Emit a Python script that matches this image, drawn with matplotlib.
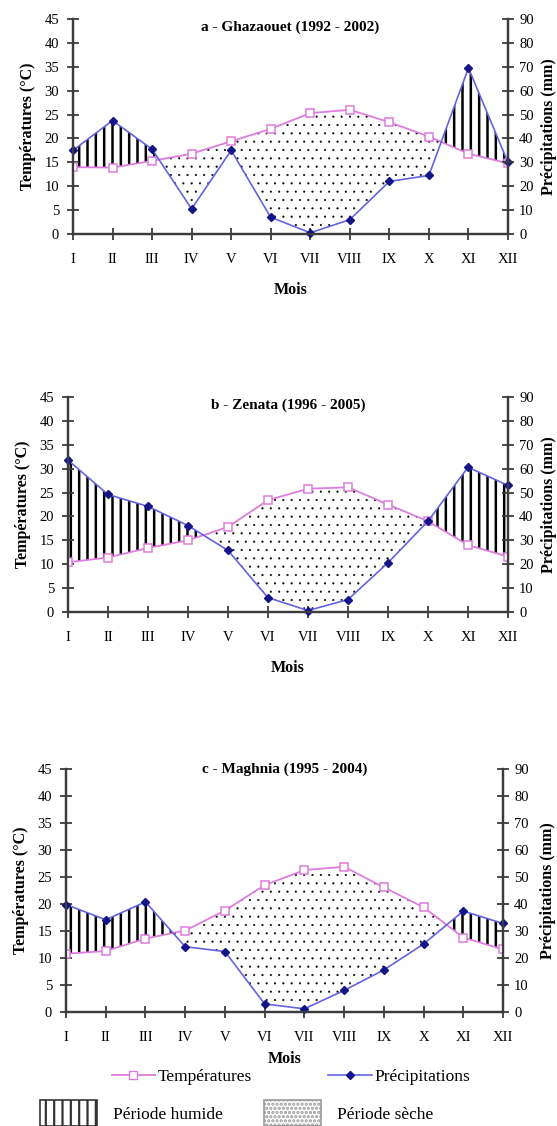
import numpy as np
import matplotlib
matplotlib.use("Agg")
import matplotlib.pyplot as plt
from matplotlib.lines import Line2D
from matplotlib.patches import Patch

plt.rcParams["font.family"] = ["Liberation Serif", "DejaVu Serif"]
plt.rcParams["hatch.linewidth"] = 1.6

# %%
# data (temperature in degC, precipitation in mm)
mois = ["I", "II", "III", "IV", "V", "VI", "VII", "VIII", "IX", "X", "XI", "XII"]

temp_ghazaouet = [14.0, 13.9, 15.3, 16.8, 19.4, 22.0, 25.3, 26.0, 23.4, 20.4, 16.8, 14.8]
prec_ghazaouet = [35.0, 47.5, 35.5, 10.5, 35.0, 7.0, 0.5, 6.0, 22.0, 24.5, 69.5, 30.0]

temp_zenata = [10.4, 11.4, 13.4, 15.0, 17.8, 23.4, 25.8, 26.1, 22.5, 19.0, 14.0, 11.6]
prec_zenata = [63.6, 49.2, 44.2, 36.2, 25.8, 6.0, 0.6, 5.2, 20.6, 38.0, 60.6, 53.0]

temp_maghnia = [10.8, 11.3, 13.6, 15.1, 18.8, 23.5, 26.3, 26.9, 23.1, 19.4, 13.8, 11.6]
prec_maghnia = [39.8, 34.2, 40.8, 24.2, 22.4, 3.0, 1.2, 8.0, 15.6, 25.2, 37.4, 32.8]

titres = ["a - Ghazaouet (1992 - 2002)",
          "b - Zenata (1996 - 2005)",
          "c - Maghnia (1995 - 2004)"]

# %%
TEMP_COLOR = "#dd7ddd"
PREC_LINE = "#6464e2"
PREC_MARK = "#15158a"
AXIS_COLOR = "#3c3c3c"


def set_hatch_lw(artist, lw):
    # per-artist hatch width exists in recent matplotlib only
    if hasattr(artist, "set_hatch_linewidth"):
        artist.set_hatch_linewidth(lw)


def draw_panel(ax, temp, prec, titre, title_y, xlabelpad, rlabelpad):
    x = np.arange(len(mois))
    temp = np.asarray(temp)
    prec_half = np.asarray(prec) / 2.0  # P = 2T scale (Gaussen)

    # humid period: P > 2T, dry period: P < 2T
    wet = ax.fill_between(x, temp, prec_half, where=prec_half >= temp, interpolate=True,
                          facecolor="none", edgecolor="black", hatch="||",
                          linewidth=0, zorder=1)
    set_hatch_lw(wet, 1.8)
    with plt.rc_context({"hatch.linewidth": 0.3}):
        dry = ax.fill_between(x, temp, prec_half, where=temp >= prec_half,
                              interpolate=True, facecolor="none", edgecolor="black",
                              hatch="..", linewidth=0, zorder=1)
    set_hatch_lw(dry, 0.3)

    ax.plot(x, temp, color=TEMP_COLOR, lw=1.3, marker="s", ms=6,
            mfc="white", mec=TEMP_COLOR, mew=1.1, zorder=3)
    ax.plot(x, prec_half, color=PREC_LINE, lw=1.2, marker="D", ms=4.5,
            mfc=PREC_MARK, mec=PREC_MARK, zorder=4, clip_on=False)

    ax.set_xlim(0, 11)
    ax.set_ylim(0, 45)
    ax.set_xticks(x)
    ax.set_xticklabels(mois)
    ax.set_yticks(np.arange(0, 46, 5))

    ax2 = ax.twinx()
    ax2.set_ylim(0, 90)
    ax2.set_yticks(np.arange(0, 91, 10))

    for a in (ax, ax2):
        a.spines["top"].set_visible(False)
        for s in ("left", "right", "bottom"):
            a.spines[s].set_color(AXIS_COLOR)
            a.spines[s].set_linewidth(1.6)
        a.tick_params(direction="inout", length=8, width=1.3, color=AXIS_COLOR,
                      labelsize=10.5)
    ax.tick_params(axis="x", pad=10)
    ax.tick_params(axis="y", pad=6)
    ax2.tick_params(axis="y", pad=4)

    ax.set_xlabel("Mois", fontweight="bold", fontsize=11.5, labelpad=xlabelpad)
    ax.set_ylabel("Températures (°C)", fontweight="bold", fontsize=11.5, labelpad=6)
    ax2.set_ylabel("Précipitations (mm)", fontweight="bold", fontsize=11.5,
                   labelpad=rlabelpad)
    ax.text(0.5, title_y, titre, transform=ax.transAxes, ha="center", va="center",
            fontweight="bold", fontsize=11)
    return ax2


# %%
fig = plt.figure(figsize=(5.57, 11.26), dpi=100)

ax_a = fig.add_axes([0.131, 0.7922, 0.781, 0.1909])
ax_b = fig.add_axes([0.122, 0.4565, 0.790, 0.1909])
ax_c = fig.add_axes([0.1185, 0.1012, 0.7846, 0.2158])

draw_panel(ax_a, temp_ghazaouet, prec_ghazaouet, titres[0], 0.963, 11, 5.5)
draw_panel(ax_b, temp_zenata, prec_zenata, titres[1], 0.963, 11, 5.5)
draw_panel(ax_c, temp_maghnia, prec_maghnia, titres[2], 1.0, 5, 8)

# legends at the bottom
line_handles = [
    Line2D([], [], color=TEMP_COLOR, lw=1.3, marker="s", ms=6, mfc="white", mec=TEMP_COLOR),
    Line2D([], [], color=PREC_LINE, lw=1.2, marker="D", ms=4.5, mfc=PREC_MARK, mec=PREC_MARK),
]
fig.legend(line_handles, ["Températures", "Précipitations"], loc="center",
           bbox_to_anchor=(0.522, 0.0435), ncol=2, frameon=False, fontsize=12.5,
           handlelength=2.5, handletextpad=0.15, columnspacing=4.4)

wet_patch = Patch(facecolor="white", edgecolor="#333333", hatch="||", lw=1.2)
with plt.rc_context({"hatch.linewidth": 0.5}):
    dry_patch = Patch(facecolor="white", edgecolor="#999999", hatch="....", lw=1.2)
set_hatch_lw(dry_patch, 0.5)
fig.legend([wet_patch, dry_patch], ["Période humide", "Période sèche"], loc="center",
           bbox_to_anchor=(0.4246, 0.0115), ncol=2, frameon=False, fontsize=12.5,
           handlelength=3.3, handleheight=2.0, handletextpad=0.9, columnspacing=2.4)

fig.savefig("out.png", dpi=100)
